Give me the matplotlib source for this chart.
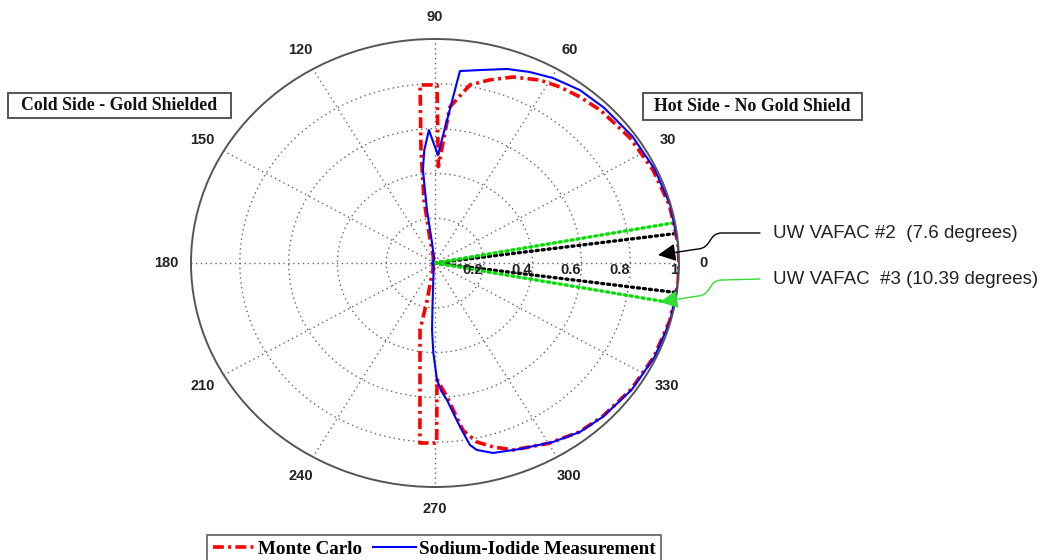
import numpy as np
import matplotlib
matplotlib.use("Agg")
import matplotlib.pyplot as plt
from matplotlib.patches import Rectangle, FancyArrowPatch
from matplotlib.path import Path
from matplotlib.font_manager import FontProperties

# Monte Carlo angular response (angle in degrees, normalised response)
mc_angle = [-180, -110, -101, -101.6, -94.4, -89.5, -89.1, -85.3, -81.3, -77.9,
            -73.8, -69, -60, -52, -45, -35, -25, -15, -5, 0, 5, 15, 25, 35, 45,
            51.3, 56.9, 62.2, 68.9, 74.6, 79.8, 85, 86.8, 88.2, 89.4, 94.4,
            96.5, 99.1, 101, 106, 180]
mc_resp = [0.01, 0.02, 0.17, 0.305, 0.806, 0.804, 0.52, 0.6, 0.755, 0.817,
           0.855, 0.894, 0.93, 0.958, 0.97, 0.982, 0.99, 0.996, 1.0, 1.0, 1.0,
           0.995, 0.985, 0.975, 0.962, 0.95, 0.938, 0.923, 0.89, 0.848, 0.808,
           0.699, 0.514, 0.43, 0.795, 0.797, 0.508, 0.285, 0.105, 0.02, 0.01]

# Sodium-iodide detector measurement
nai_angle = [-180, -105, -94, -93, -92.3, -91, -89.1, -87.5, -85.4, -82, -80,
             -78.4, -74.3, -67.3, -58.8, -51.8, -45, -35, -25, -15, -5, 0, 5,
             15, 25, 35, 45, 52.4, 59.6, 65.5, 71.2, 77.9, 83.2, 88.6, 92.4,
             95, 96.8, 97.9, 97.7, 101, 180]
nai_resp = [0.01, 0.02, 0.12, 0.2, 0.3, 0.4, 0.522, 0.57, 0.614, 0.739, 0.825,
            0.852, 0.881, 0.9, 0.934, 0.96, 0.972, 0.985, 0.993, 0.998, 1.0,
            1.0, 1.0, 0.998, 0.993, 0.987, 0.98, 0.974, 0.957, 0.937, 0.915,
            0.881, 0.863, 0.482, 0.594, 0.505, 0.418, 0.239, 0.09, 0.02, 0.01]

# detector viewing angles
vafac_angles = [7.6, 10.39]
vafac_labels = ["UW VAFAC #2  (7.6 degrees)", "UW VAFAC  #3 (10.39 degrees)"]

theta_ticks = list(range(0, 360, 30))
r_ticks = [0.2, 0.4, 0.6, 0.8, 1.0]
r_labels = ["0.2", "0.4", "0.6", "0.8", "1"]

W, H = 1051, 560
fig = plt.figure(figsize=(W / 100, H / 100), dpi=100)
fig.patch.set_facecolor("white")


def fx(px):
    return px / W


def fy(py):
    return 1 - py / H


ax = fig.add_axes([fx(191), fy(487), fx(679) - fx(191), fy(39) - fy(487)],
                  projection="polar")
ax.set_aspect("auto")
ax.set_theta_zero_location("E")
ax.set_rlim(0, 1)
ax.set_xticks(np.deg2rad(theta_ticks))
ax.set_xticklabels([])
ax.set_yticks(r_ticks[:-1])
ax.set_yticklabels([])
ax.grid(True, linestyle=(0, (1, 2.5)), color="#666666", linewidth=1.0)
ax.spines["polar"].set_color("#555555")
ax.spines["polar"].set_linewidth(1.4)

tick_font = dict(family="Liberation Sans", weight="bold", size=10.5, color="#222222")
for t in theta_ticks:
    ax.text(np.deg2rad(t), 1.1, str(t), ha="center", va="center", **tick_font)
for r, lab in zip(r_ticks, r_labels):
    ax.annotate(lab, xy=(0, r), xytext=(-0.5, -5), textcoords="offset points",
                ha="right", va="center", **tick_font)

# viewing-angle rays
for ang, col in zip(vafac_angles, ["black", "#00e000"]):
    for s in (1, -1):
        ax.plot(np.deg2rad([0, s * ang]), [0, 1.0], color=col,
                linestyle=(0, (0.6, 1.2)), linewidth=2.4, dash_capstyle="round")

mc_line, = ax.plot(np.deg2rad(mc_angle), mc_resp, color="#ff0000",
                   linewidth=2.6, linestyle=(0, (3, 1.2, 0.8, 1.2)))
nai_line, = ax.plot(np.deg2rad(nai_angle), nai_resp, color="#0000ff",
                    linewidth=1.5)

# side boxes
box_font = FontProperties(family="Liberation Serif", weight="bold", size=12.8)
for (x0, y0, x1, y1), txt in [((8, 93, 231, 118), "Cold Side - Gold Shielded"),
                              ((643, 93, 862, 120), "Hot Side - No Gold Shield")]:
    fig.add_artist(Rectangle((fx(x0), fy(y1)), fx(x1) - fx(x0), fy(y0) - fy(y1),
                             transform=fig.transFigure, facecolor="white",
                             edgecolor="#555555", linewidth=1.4))
    fig.text(fx((x0 + x1) / 2), fy((y0 + y1) / 2), txt, ha="center",
             va="center", fontproperties=box_font, color="#111111")

# annotation labels with curved leaders
ann_font = dict(family="Liberation Sans", size=13.5, color="#222222")
leaders = [((760, 233), (722, 233), (708, 233), (712, 248), (698, 249), (658, 255), "black"),
           ((760, 279), (722, 280), (708, 280), (712, 295), (698, 296), (660, 302), "#33dd33")]
for lab, (p0, p1, c1, c2, p2, tip, col) in zip(vafac_labels, leaders):
    fig.text(fx(773), fy(p0[1]), lab, ha="left", va="center", **ann_font)
    verts = [(fx(x), fy(y)) for x, y in [p0, p1, c1, c2, p2, tip]]
    codes = [Path.MOVETO, Path.LINETO, Path.CURVE4, Path.CURVE4, Path.CURVE4,
             Path.LINETO]
    arr = FancyArrowPatch(path=Path(verts, codes), arrowstyle="-|>,head_length=0.9,head_width=0.45",
                          mutation_scale=12, color=col, linewidth=1.0,
                          transform=fig.transFigure)
    fig.add_artist(arr)

leg = fig.legend([mc_line, nai_line], ["Monte Carlo", "Sodium-Iodide Measurement"],
                 loc="upper left", bbox_to_anchor=(fx(207), fy(535)), ncol=2,
                 frameon=True, fancybox=False, edgecolor="#555555",
                 prop=FontProperties(family="Liberation Serif", weight="bold", size=13.7),
                 handlelength=2.25, handletextpad=0.15, columnspacing=0.55,
                 borderpad=0.3, borderaxespad=0)
leg.get_frame().set_linewidth(1.4)

fig.savefig("out.png", dpi=100, facecolor="white")
